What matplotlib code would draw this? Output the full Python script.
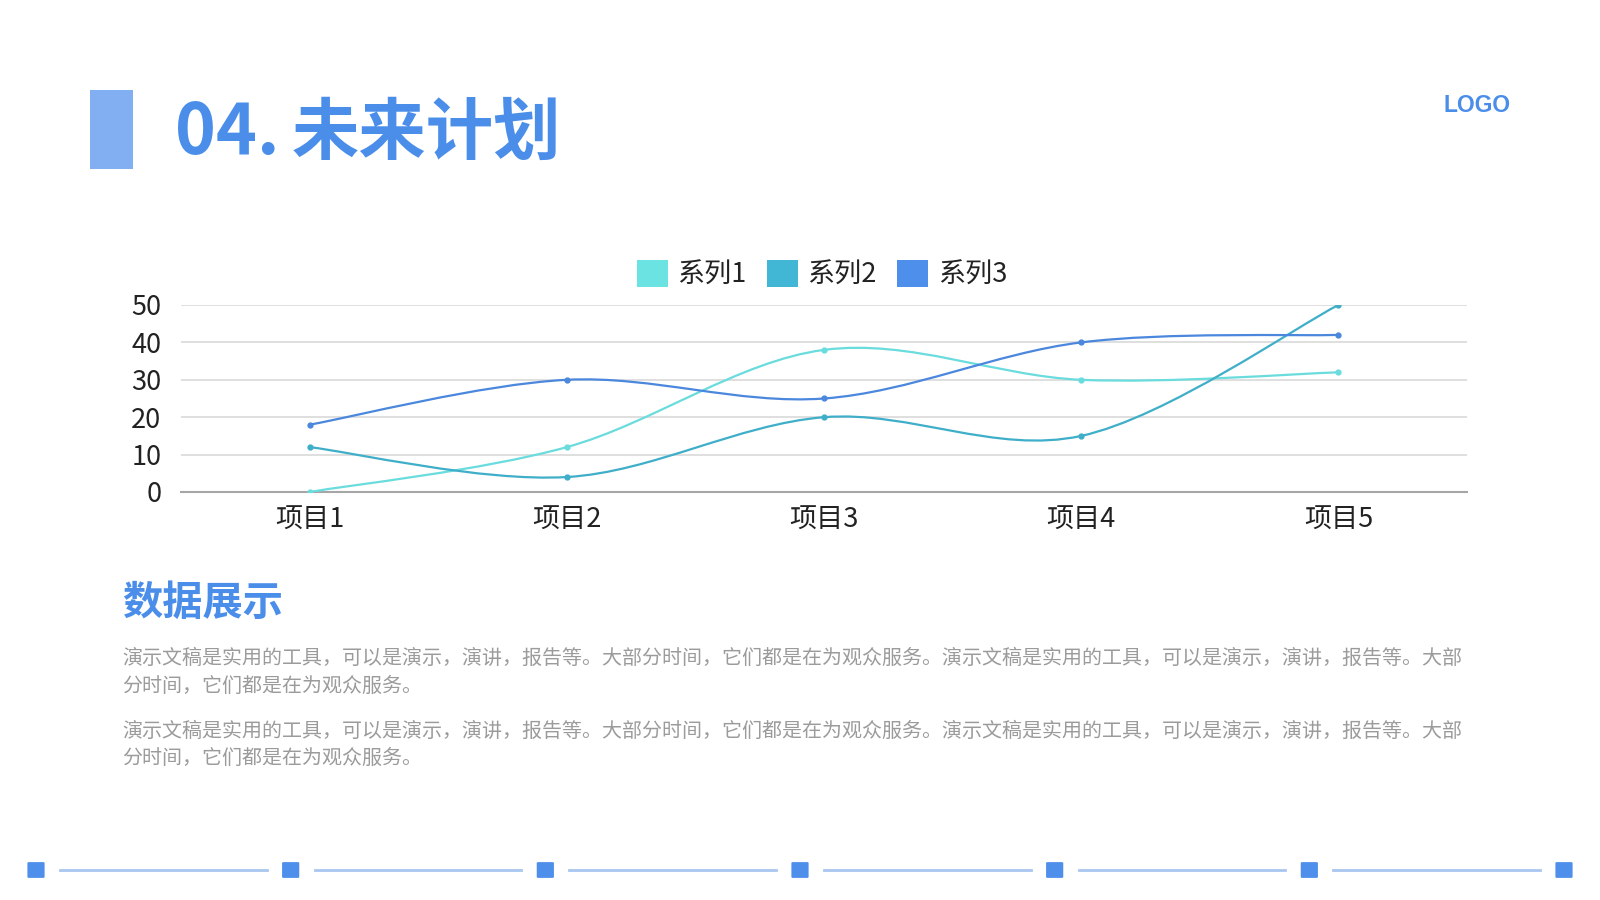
import numpy as np
import matplotlib
matplotlib.use('Agg')
import matplotlib.pyplot as plt
from matplotlib.path import Path
from matplotlib.patches import PathPatch, Patch, Rectangle, FancyBboxPatch
from matplotlib.lines import Line2D

plt.rcParams['font.family'] = ['Noto Sans CJK SC', 'DejaVu Sans']

#%% Data
categories = ['项目1', '项目2', '项目3', '项目4', '项目5']
series_names = ['系列1', '系列2', '系列3']
series1 = [0, 12, 38, 30, 32]
series2 = [12, 4, 20, 15, 50]
series3 = [18, 30, 25, 40, 42]
y_ticks = [0, 10, 20, 30, 40, 50]

title_num = '04.'
title_txt = '未来计划'
logo_txt = 'LOGO'
heading = '数据展示'
para_lines = [
    '演示文稿是实用的工具，可以是演示，演讲，报告等。大部分时间，它们都是在为观众服务。演示文稿是实用的工具，可以是演示，演讲，报告等。大部',
    '分时间，它们都是在为观众服务。',
    '演示文稿是实用的工具，可以是演示，演讲，报告等。大部分时间，它们都是在为观众服务。演示文稿是实用的工具，可以是演示，演讲，报告等。大部',
    '分时间，它们都是在为观众服务。',
]

line_colors = ['#6ADCDD', '#3FAEC9', '#4A87DD']
legend_colors = ['#6BE3E3', '#41B7D5', '#4F8FEC']
blue = '#4A8EEA'


#%% Smooth curve helper (Bezier through the points, like office "smoothed line")
def smooth_path(xs, ys):
    pts = np.column_stack([xs, ys]).astype(float)
    n = len(pts)
    verts = [pts[0]]
    codes = [Path.MOVETO]
    for i in range(n - 1):
        p0 = pts[i - 1] if i > 0 else pts[i]
        p1 = pts[i]
        p2 = pts[i + 1]
        p3 = pts[i + 2] if i + 2 < n else pts[i + 1]
        c1 = p1 + (p2 - p0) / 6.0
        c2 = p2 - (p3 - p1) / 6.0
        verts += [c1, c2, p2]
        codes += [Path.CURVE4] * 3
    return Path(verts, codes)


#%% Figure
fig = plt.figure(figsize=(16, 9), dpi=100)
fig.patch.set_facecolor('white')

# header
fig.patches.append(Rectangle((90 / 1600, 1 - 169 / 900), 43 / 1600, 79 / 900,
                             transform=fig.transFigure, color='#82AEF2', lw=0))
fig.text(175 / 1600, 1 - 134 / 900, title_num, fontsize=50, fontweight='bold',
         color=blue, va='center', ha='left')
fig.text(292 / 1600, 1 - 134 / 900, title_txt, fontsize=48.5, fontweight='bold',
         color=blue, va='center', ha='left')
fig.text(1477 / 1600, 1 - 105 / 900, logo_txt, fontsize=16.5, fontweight='bold',
         color=blue, va='center', ha='center', family='Liberation Sans')

#%% Chart
ax = fig.add_axes([181 / 1600, 1 - 492 / 900, (1467 - 181) / 1600, (492 - 305) / 900])
x = np.arange(len(categories))
for ys, col in zip([series1, series2, series3], line_colors):
    ax.add_patch(PathPatch(smooth_path(x, ys), facecolor='none', edgecolor=col,
                           lw=1.6, zorder=3))
    ax.plot(x, ys, 'o', color=col, ms=3.5, zorder=4)

ax.set_xlim(-0.5, len(categories) - 0.5)
ax.set_ylim(0, 50)
ax.set_yticks(y_ticks)
ax.set_xticks(x)
ax.set_xticklabels(categories)
ax.tick_params(axis='both', length=0, labelsize=19.5, colors='#222222')
ax.tick_params(axis='y', pad=14)
ax.tick_params(axis='x', pad=11)
ax.yaxis.grid(True, color='#D9D9D9', lw=1.2)
ax.set_axisbelow(True)
for s in ['top', 'left', 'right']:
    ax.spines[s].set_visible(False)
ax.spines['bottom'].set_color('#A6A6A6')
ax.spines['bottom'].set_linewidth(1.5)

handles = [Patch(facecolor=c, edgecolor='none') for c in legend_colors]
fig.legend(handles, series_names, loc='center', bbox_to_anchor=(822 / 1600, 1 - 274 / 900),
           ncol=3, frameon=False, fontsize=19.5, handlelength=1.15, handleheight=1.15,
           handletextpad=0.35, columnspacing=0.75, labelcolor='#222222')

#%% Text block
fig.text(122 / 1600, 1 - 603 / 900, heading, fontsize=29, fontweight='bold',
         color=blue, va='center', ha='left')
line_y = [658, 686, 731, 758]
for txt, yy in zip(para_lines, line_y):
    fig.text(122 / 1600, 1 - yy / 900, txt, fontsize=14.4, color='#9B9B9B',
             va='center', ha='left')

#%% Footer decoration
centers = np.linspace(36, 1564, 7)
for i, cx in enumerate(centers):
    fig.patches.append(FancyBboxPatch(((cx - 7) / 1600, 1 - 877 / 900), 14 / 1600, 14 / 900,
                                      boxstyle='round,pad=0.001', transform=fig.transFigure,
                                      facecolor='#4F8FEC', edgecolor='none'))
    if i < len(centers) - 1:
        fig.lines.append(Line2D([(cx + 24) / 1600, (centers[i + 1] - 24) / 1600],
                                [1 - 870 / 900, 1 - 870 / 900], transform=fig.transFigure,
                                color='#A9C6F0', lw=2))

fig.savefig('out.png', dpi=100, facecolor='white')
